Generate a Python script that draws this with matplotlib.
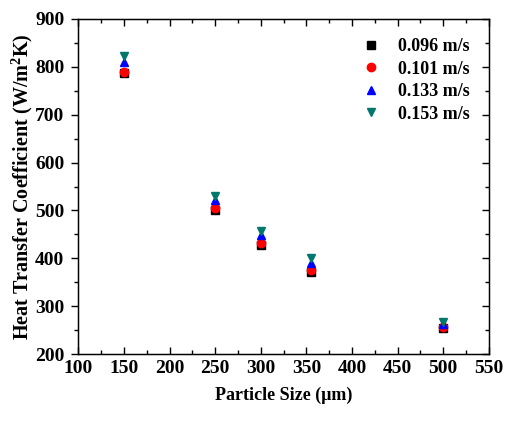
import numpy as np
import matplotlib
matplotlib.use("Agg")
import matplotlib.pyplot as plt
from matplotlib.ticker import MultipleLocator

plt.rcParams['font.family'] = ['Liberation Serif', 'DejaVu Serif']
plt.rcParams['font.weight'] = 'bold'
plt.rcParams['mathtext.fontset'] = 'custom'
plt.rcParams['mathtext.rm'] = 'Liberation Serif:bold'
plt.rcParams['mathtext.bf'] = 'Liberation Serif:bold'

# particle sizes (um)
sizes = [150, 250, 300, 355, 500]

# heat transfer coefficient for each velocity
h_096 = [787, 501, 428, 372, 254]
h_101 = [790, 505, 432, 376, 256]
h_133 = [810, 521, 448, 390, 262]
h_153 = [822, 531, 458, 401, 266]

labels = ['0.096 m/s', '0.101 m/s', '0.133 m/s', '0.153 m/s']

fig = plt.figure(figsize=(5.05, 4.22), dpi=100)
ax = fig.add_axes([0.155, 0.161, 0.813, 0.794])

ax.plot(sizes, h_096, 's', color='black', ms=5.5, label=labels[0])
ax.plot(sizes, h_101, 'o', color='#ff0000', ms=6, label=labels[1])
ax.plot(sizes, h_133, '^', color='#0000ff', ms=6, label=labels[2])
ax.plot(sizes, h_153, 'v', color='#00786e', ms=6, label=labels[3])

ax.set_xlim(100, 550)
ax.set_ylim(200, 900)
ax.xaxis.set_major_locator(MultipleLocator(50))
ax.xaxis.set_minor_locator(MultipleLocator(25))
ax.yaxis.set_major_locator(MultipleLocator(100))
ax.yaxis.set_minor_locator(MultipleLocator(50))

ax.tick_params(axis='both', which='both', labelsize=14, top=True)
ax.tick_params(axis='x', which='major', direction='in', length=5, width=1, pad=4)
ax.tick_params(axis='x', which='minor', direction='in', length=3, width=1)
ax.tick_params(axis='y', which='major', direction='out', length=5, width=1, pad=5)
ax.tick_params(axis='y', which='minor', direction='out', length=3, width=1)
for lab in ax.get_xticklabels() + ax.get_yticklabels():
    lab.set_fontweight('bold')

# right side ticks point inward
ax2 = ax.twinx()
ax2.set_ylim(200, 900)
ax2.yaxis.set_major_locator(MultipleLocator(100))
ax2.yaxis.set_minor_locator(MultipleLocator(50))
ax2.tick_params(axis='y', which='major', direction='in', length=5, width=1, labelright=False)
ax2.tick_params(axis='y', which='minor', direction='in', length=3, width=1)

for s in ax.spines.values():
    s.set_linewidth(1.0)

ax.set_xlabel('Particle Size (\u03bcm)', fontsize=13, fontweight='bold', labelpad=7)
ax.set_ylabel('Heat Transfer Coefficient (W/m$^2$K)', fontsize=14.5, fontweight='bold', labelpad=0)

ax.legend(loc='upper right', frameon=False, prop={'weight': 'bold', 'size': 13},
          handletextpad=0.5, labelspacing=0.3, borderaxespad=0.3,
          bbox_to_anchor=(0.985, 0.98))

fig.savefig("out.png", dpi=100)
